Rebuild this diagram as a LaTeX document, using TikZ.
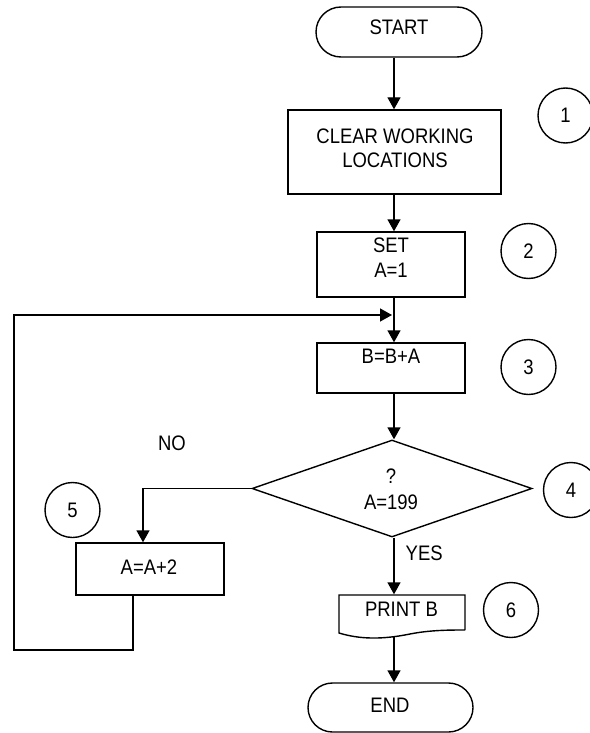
\documentclass[tikz,border=0pt]{standalone}
\usepackage{fontspec}
\setmainfont{Liberation Sans}[FakeStretch=0.88]
\usetikzlibrary{arrows.meta, shapes.geometric, shapes.misc}

\begin{document}
\begin{tikzpicture}[x=1pt, y=-1pt, line width=1.4pt,
    >={Triangle[length=12pt, width=13pt]},
    font=\fontsize{21}{25}\selectfont,
    box/.style={draw, rectangle, inner sep=0pt},
    term/.style={draw, rounded rectangle, minimum width=166pt, minimum height=50pt, inner sep=0pt},
    num/.style={draw, circle, minimum size=55pt, inner sep=0pt, text height=15pt, text depth=-7pt},
    txt/.style={anchor=base, inner sep=0pt}]

    \useasboundingbox (0,0) rectangle (589,733);

    % Main column
    \node[term] (start) at (399,32) {};
    \node[txt] (lstart) at (399,35) {START};

    \node[box, minimum width=213pt, minimum height=84pt] (clear) at (394.5,152) {};
    \node[txt] (lclear1) at (395,143) {CLEAR WORKING};
    \node[txt] (lclear2) at (395,167) {LOCATIONS};

    \node[box, minimum width=148pt, minimum height=65pt] (set) at (391,264.5) {};
    \node[txt] (lset1) at (391,252) {SET};
    \node[txt] (lset2) at (391,277) {A=1};

    \node[box, minimum width=148pt, minimum height=50pt] (add) at (391,368) {};
    \node[txt] (ladd) at (391,363) {B=B+A};

    \node[draw, diamond, minimum width=280pt, minimum height=97pt, inner sep=0pt] (test) at (392,488.5) {};
    \node[txt] (ltest1) at (391,483) {?};
    \node[txt] (ltest2) at (391,509) {A=199};

    % Print (document shape)
    \node[minimum width=126pt, minimum height=38pt, inner sep=0pt] (print) at (402,614) {};
    \draw (465,630) -- (465,595) -- (339,595) -- (339,633)
        .. controls (365,641) and (390,638) .. (410,634)
        .. controls (430,630) and (450,630) .. (465,630);
    \node[txt] (lprint) at (401.5,616) {PRINT B};

    \node[term, minimum width=165pt, minimum height=49pt] (stop) at (390.5,707.5) {};
    \node[txt] (lstop) at (390,712) {END};

    % Side box
    \node[box, minimum width=148pt, minimum height=52pt] (inc) at (150,569) {};
    \node[txt] (linc) at (149,574) {A=A+2};

    % Step numbers
    \node[num] (n1) at (565.5,115.5) {1};
    \node[num] (n2) at (528.5,251) {2};
    \node[num] (n3) at (528.5,367) {3};
    \node[num] (n4) at (571,490) {4};
    \node[num] (n5) at (72.5,510) {5};
    \node[num] (n6) at (511,610) {6};

    % Branch labels
    \node[txt] (lno) at (172,450) {NO};
    \node[txt, anchor=base west] (lyes) at (405,560) {YES};

    % Flow lines
    \coordinate (spine) at (394,0);
    \coordinate (join) at (394,315);
    \coordinate (wave) at (394,637);
    \draw[->] (start.south -| spine) -- (clear.north -| spine);
    \draw[->] (clear.south -| spine) -- (set.north -| spine);
    \draw[->] (set.south -| spine) -- (add.north -| spine);
    \draw[->] (add.south -| spine) -- (test.north -| spine);
    \draw[->] (test.south -| spine) -- (print.north -| spine);
    \draw[->] (wave) -- (stop.north -| spine);

    % NO branch
    \coordinate (nocorner) at (143,488.5);
    \draw[->] (test.west) -- (nocorner) -- (nocorner |- inc.north);

    % Loop back
    \coordinate (loopdown) at (133,650);
    \coordinate (loopleft) at (14,650);
    \draw[->] (inc.south -| loopdown) -- (loopdown) -- (loopleft)
        -- (loopleft |- join) -- ([xshift=-2pt]join);
\end{tikzpicture}
\end{document}
